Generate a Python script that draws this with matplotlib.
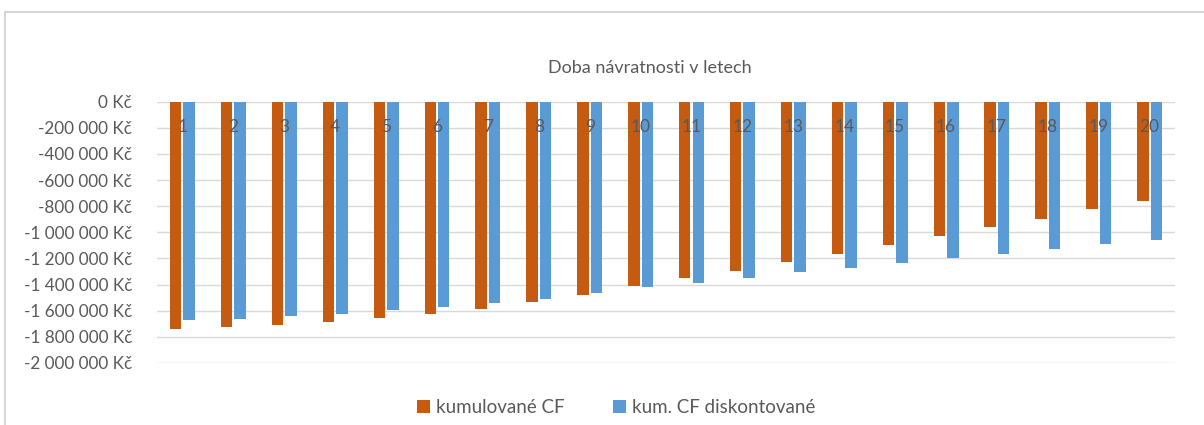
import matplotlib.pyplot as plt
import numpy as np
from matplotlib.patches import Rectangle
from matplotlib.ticker import FuncFormatter, MultipleLocator

plt.rcParams['font.family'] = ['Lato', 'DejaVu Sans']

# Roky a kumulovane cash flow (Kč)
roky = [str(i) for i in range(1, 21)]
kumulovane_cf = [-1736000, -1724000, -1706000, -1683000, -1652000,
                 -1622000, -1583000, -1533000, -1481000, -1412000,
                 -1349000, -1295000, -1228000, -1165000, -1096000,
                 -1029000, -960000, -899000, -825000, -761000]
kum_cf_diskont = [-1673000, -1660000, -1642000, -1622000, -1596000,
                  -1571000, -1537000, -1507000, -1468000, -1422000,
                  -1387000, -1351000, -1305000, -1272000, -1238000,
                  -1200000, -1165000, -1129000, -1093000, -1062000]

oranzova = "#C55A11"
modra = "#5B9BD5"
seda = "#595959"

fig = plt.figure(figsize=(12.04, 4.25), dpi=100)
ax = fig.add_axes([0.1304, 0.1459, 0.8456, 0.6148])

x = np.arange(len(roky))
w = 0.225
ax.bar(x - w / 2 - 0.02, kumulovane_cf, width=w, color=oranzova, label="kumulované CF", zorder=2)
ax.bar(x + w / 2 + 0.02, kum_cf_diskont, width=w, color=modra, label="kum. CF diskontované", zorder=2)

ax.set_xlim(-0.5, len(roky) - 0.5)
ax.set_ylim(-2000000, 0)
ax.yaxis.set_major_locator(MultipleLocator(200000))


def kc(v, pos):
    s = f"{int(round(v)):,}".replace(",", " ")
    return f"{s} Kč"


ax.yaxis.set_major_formatter(FuncFormatter(kc))
ax.grid(axis="y", color="#D9D9D9", linewidth=1, zorder=0)
for s in ax.spines.values():
    s.set_visible(False)
ax.tick_params(axis="y", length=0, labelsize=12.3, labelcolor=seda, pad=18)
ax.set_xticks([])

# popisky let pod osou v nule
for i, r in enumerate(roky):
    ax.text(i, -195000, r, ha="center", va="center", fontsize=12.5, color=seda, zorder=3)

fig.text(0.54, 0.84, "Doba návratnosti v letech", ha="center", va="center",
         fontsize=13, color=seda)

ax.legend(loc="center", bbox_to_anchor=(0.451, -0.17), ncol=2, frameon=False,
          fontsize=13.5, labelcolor=seda, handlelength=0.7, handleheight=0.7,
          columnspacing=2.6, handletextpad=0.3)

# ramecek grafu
fig.patches.append(Rectangle((5 / 1204, -0.01), 1.1, 1 - 12 / 425 + 0.01,
                             transform=fig.transFigure, fill=False,
                             edgecolor="#D0D0D0", linewidth=1.2))

fig.savefig("out.png", dpi=100)
